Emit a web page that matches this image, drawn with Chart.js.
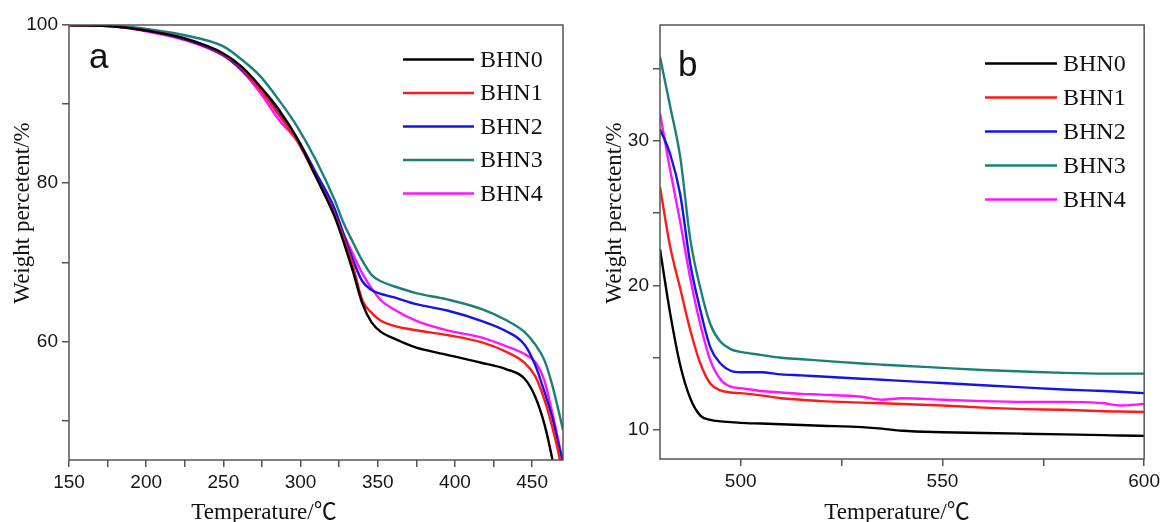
<!DOCTYPE html>
<html><head><meta charset="utf-8">
<script src="https://cdn.jsdelivr.net/npm/chart.js@4.4.1/dist/chart.umd.min.js"></script>
<style>
html,body{margin:0;padding:0;background:#fff;}
#wrap{position:relative;width:1164px;height:522px;overflow:hidden;background:#fff;}
canvas{position:absolute;top:0;}
</style></head><body>
<div id="wrap">
<canvas id="ca" width="580" height="522" style="left:0px"></canvas>
<canvas id="cb" width="584" height="522" style="left:580px"></canvas>
</div>
<script>
// ---------- data ----------
const seriesNames = ['BHN0','BHN1','BHN2','BHN3','BHN4'];

// panel a
const tempA = [150,180,200,225,250,262,274,286,298,310,322,328,334,340,346,352,360,375,395,417,433,445,452,458,463,468,470];
const bhn0A = [100,99.8,99.3,98.3,96.4,94.7,92.2,89.3,85.6,80.8,75.8,72.5,68.8,64.8,62.4,61.2,60.4,59.2,58.3,57.3,56.5,55.3,53.0,49.5,45.2,40.0,38.0];
const bhn1A = [100,99.8,99.3,98.3,96.3,94.5,91.8,88.6,85.3,80.8,76.0,73.0,69.5,65.2,63.6,62.6,62.0,61.4,60.8,59.9,58.7,57.3,55.6,52.6,49.2,45.0,42.5];
const bhn2A = [100,99.8,99.3,98.2,96.2,94.3,91.9,88.8,85.6,81.3,76.8,73.5,70.3,67.6,66.5,66.0,65.6,64.7,63.9,62.6,61.3,59.6,57.0,53.6,50.4,46.3,44.8];
const bhn3A = [100,99.9,99.5,98.7,97.3,95.6,93.5,90.5,87.1,82.9,77.9,74.9,72.5,70.2,68.4,67.6,67.0,66.1,65.3,64.1,62.7,61.2,59.6,57.6,54.5,50.5,48.8];
const bhn4A = [100,99.8,99.2,98.1,96.1,94.2,91.4,88.0,85.3,81.0,76.3,73.5,71.0,68.6,66.7,65.2,64.1,62.6,61.4,60.5,59.4,58.4,57.4,55.0,51.0,46.5,44.5];
const xTicksA = [150,175,200,225,250,275,300,325,350,375,400,425,450];
const xLabelsA = [150,200,250,300,350,400,450];
const yTicksA = [50,60,70,80,90,100];
const yLabelsA = [60,80,100];

// panel b
const tempB = [480,482.5,485,487.5,490,492.5,495,497.5,500,505,510,515,520,530,535,540,550,560,570,580,590,594,600];
const bhn0B = [22.5,18.1,14.5,12.2,11.0,10.7,10.6,10.55,10.5,10.45,10.4,10.35,10.3,10.2,10.1,9.95,9.85,9.8,9.75,9.7,9.65,9.62,9.6];
const bhn1B = [26.8,22.7,19.8,16.9,14.6,13.2,12.75,12.6,12.55,12.4,12.2,12.1,12.0,11.9,11.85,11.8,11.7,11.55,11.45,11.4,11.3,11.28,11.25];
const bhn2B = [30.8,29.1,26.3,21.5,18.3,15.7,14.6,14.1,14.0,14.0,13.85,13.78,13.7,13.55,13.48,13.4,13.25,13.1,12.95,12.8,12.7,12.65,12.55];
const bhn3B = [35.8,32.4,28.9,23.2,19.8,17.3,16.1,15.6,15.4,15.2,15.0,14.9,14.8,14.6,14.52,14.45,14.3,14.15,14.05,13.95,13.9,13.9,13.9];
const bhn4B = [31.9,28.0,24.4,20.5,17.3,14.8,13.5,13.0,12.9,12.7,12.6,12.5,12.45,12.3,12.1,12.2,12.1,12.0,11.95,11.95,11.85,11.7,11.8];
const xTicksB = [500,525,550,575,600];
const xLabelsB = [500,550,600];
const yTicksB = [10,15,20,25,30,35];
const yLabelsB = [10,20,30];

// ---------- styles ----------
const colors = ['#000000','#ff1a1a','#1414e6','#1a7f7a','#ff14ff'];
const TICK_FONT = {family:'"Liberation Sans", Arial, sans-serif', size:19};
const TITLE_FONT = '23px "Liberation Serif", "Noto Sans CJK SC", serif';

function pts(xs, ys){ return xs.map((x,i)=>({x:x, y:ys[i]})); }
function makeDatasets(xs, arrs){
  return arrs.map((ys,i)=>({
    label: seriesNames[i], data: pts(xs, ys), borderColor: colors[i], backgroundColor: colors[i],
    borderWidth: 2.4, pointRadius: 0, fill:false, cubicInterpolationMode:'monotone'
  }));
}

const overlay = {
  id:'overlay',
  afterDraw(chart, args, o){
    const ctx = chart.ctx, a = chart.chartArea;
    ctx.save();
    ctx.strokeStyle = '#555'; ctx.lineWidth = 1.5;
    ctx.strokeRect(a.left, a.top, a.right - a.left, a.bottom - a.top);
    ctx.fillStyle = '#111';
    ctx.font = '35px "Liberation Sans", Arial, sans-serif';
    ctx.textAlign = 'left'; ctx.textBaseline = 'alphabetic';
    ctx.fillText(o.letter, o.letterX, o.letterY);
    ctx.font = '24px "Liberation Serif", serif';
    ctx.textBaseline = 'middle';
    chart.data.datasets.forEach((ds, i) => {
      const y = o.legY + i * o.legStep;
      ctx.strokeStyle = ds.borderColor; ctx.lineWidth = 2.5;
      ctx.beginPath(); ctx.moveTo(o.legX1, y); ctx.lineTo(o.legX2, y); ctx.stroke();
      ctx.fillStyle = '#111';
      ctx.fillText(ds.label, o.legTX, y + 1);
    });
    ctx.font = TITLE_FONT;
    ctx.textAlign = 'center'; ctx.textBaseline = 'alphabetic';
    ctx.fillStyle = '#111';
    ctx.fillText(o.xTitle, o.xTitleX, o.xTitleY);
    ctx.translate(o.yTitleX, o.yTitleY); ctx.rotate(-Math.PI/2);
    ctx.fillText(o.yTitle, 0, 0);
    ctx.restore();
  }
};

function axis(min, max, ticks, labels, fitKey, fitVal){
  return {
    type:'linear', min:min, max:max,
    afterBuildTicks: s => { s.ticks = ticks.map(v => ({value:v})); },
    afterFit: s => { s[fitKey] = fitVal; },
    ticks:{ font:TICK_FONT, color:'#151515', padding:4, autoSkip:false, maxRotation:0,
      callback: v => labels.includes(v) ? String(v) : '' },
    grid:{ display:true, drawOnChartArea:false, drawTicks:true, tickLength:7, color:'#555', lineWidth:1.5 },
    border:{ display:false },
    title:{ display:false }
  };
}

function makeChart(id, xs, arrs, xa, ya, pad, ov){
  return new Chart(document.getElementById(id), {
    type:'line',
    data:{ datasets: makeDatasets(xs, arrs) },
    options:{
      responsive:false, animation:false, devicePixelRatio:1,
      layout:{ padding: pad },
      scales:{ x: xa, y: ya },
      plugins:{ legend:{display:false}, tooltip:{enabled:false}, overlay: ov }
    },
    plugins:[overlay]
  });
}

makeChart('ca', tempA, [bhn0A,bhn1A,bhn2A,bhn3A,bhn4A],
  axis(150, 470, xTicksA, xLabelsA, 'height', 62),
  axis(45, 100, yTicksA, yLabelsA, 'width', 69),
  {top:25, right:17, left:0, bottom:0},
  {letter:'a', letterX:89, letterY:68,
   legX1:403, legX2:474, legTX:480, legY:59.5, legStep:33.5,
   xTitle:'Temperature/\u2103', xTitleX:264, xTitleY:519,
   yTitle:'Weight percetent/%', yTitleX:29, yTitleY:213});

makeChart('cb', tempB, [bhn0B,bhn1B,bhn2B,bhn3B,bhn4B],
  axis(480, 600, xTicksB, xLabelsB, 'height', 63),
  axis(8, 38, yTicksB, yLabelsB, 'width', 80),
  {top:25, right:18, left:0, bottom:0},
  {letter:'b', letterX:98, letterY:76,
   legX1:405, legX2:477, legTX:483, legY:63.5, legStep:34,
   xTitle:'Temperature/\u2103', xTitleX:317, xTitleY:519,
   yTitle:'Weight percetent/%', yTitleX:41, yTitleY:213});
</script>
</body></html>
